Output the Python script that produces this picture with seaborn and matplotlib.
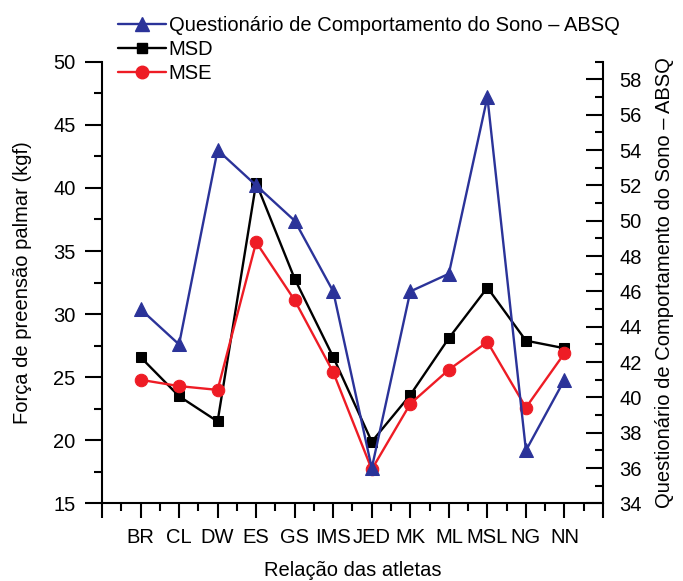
import matplotlib
matplotlib.use("Agg")
import matplotlib.pyplot as plt
from matplotlib.ticker import MultipleLocator
from matplotlib.lines import Line2D
import seaborn as sns
import pandas as pd

athletes = ["BR", "CL", "DW", "ES", "GS", "IMS", "JED", "MK", "ML", "MSL", "NG", "NN"]
msd = [26.6, 23.5, 21.5, 40.4, 32.8, 26.6, 19.9, 23.6, 28.1, 32.1, 27.9, 27.3]
mse = [24.8, 24.3, 24.0, 35.7, 31.1, 25.4, 17.7, 22.9, 25.6, 27.8, 22.6, 26.9]
absq = [45, 43, 54, 52, 50, 46, 36, 46, 47, 57, 37, 41]

label_absq = "Questionário de Comportamento do Sono – ABSQ"
label_msd = "MSD"
label_mse = "MSE"
xlabel = "Relação das atletas"
ylabel_left = "Força de preensão palmar (kgf)"

df = pd.DataFrame({"atleta": athletes, "MSD": msd, "MSE": mse, "ABSQ": absq})

sns.set_style("white")
plt.rcParams["font.family"] = ["Liberation Sans", "DejaVu Sans"]
for k in ("text.color", "axes.labelcolor", "xtick.color", "ytick.color"):
    plt.rcParams[k] = "black"
FS = 14.5

fig = plt.figure(figsize=(6.83, 5.81), dpi=100)
ax = fig.add_axes([0.1493, 0.1334, 0.7336, 0.7604])
ax2 = ax.twinx()

c_blue = "#2B3399"
c_red = "#EE1C25"
c_black = "#000000"
LW = 1.7

sns.lineplot(data=df, x="atleta", y="MSD", ax=ax, color=c_black, marker="s",
             markersize=7.5, markeredgecolor=c_black, linewidth=LW, sort=False)
sns.lineplot(data=df, x="atleta", y="MSE", ax=ax, color=c_red, marker="o",
             markersize=9, markeredgecolor=c_red, linewidth=LW, sort=False)
sns.lineplot(data=df, x="atleta", y="ABSQ", ax=ax2, color=c_blue, marker="^",
             markersize=10, markeredgecolor=c_blue, linewidth=LW, sort=False)

ax.set_xlim(-1, 12)
ax.set_ylim(15, 50)
ax2.set_ylim(34, 59)

ax.xaxis.set_minor_locator(MultipleLocator(0.5))
ax.set_xticks(range(-1, 13))
ax.set_xticklabels([""] + athletes + [""])
ax.yaxis.set_major_locator(MultipleLocator(5))
ax.yaxis.set_minor_locator(MultipleLocator(2.5))
ax2.yaxis.set_major_locator(MultipleLocator(2))
ax2.yaxis.set_minor_locator(MultipleLocator(1))

for a in (ax, ax2):
    for s in a.spines.values():
        s.set_linewidth(1.5)
        s.set_color("black")
    a.spines["top"].set_visible(False)

ax.spines["right"].set_visible(False)
ax2.spines["left"].set_visible(False)
ax2.spines["bottom"].set_visible(False)

ax.tick_params(axis="y", which="major", direction="out", length=12, width=1.5,
               labelsize=FS, pad=7, left=True)
ax.tick_params(axis="y", which="minor", direction="out", length=6, width=1.5, left=True)
ax.tick_params(axis="x", which="major", direction="out", length=11, width=1.5,
               labelsize=FS, pad=7, bottom=True)
ax.tick_params(axis="x", which="minor", direction="out", length=6, width=1.5, bottom=True)
ax2.tick_params(axis="y", which="major", direction="in", length=12, width=1.5,
                labelsize=FS, pad=12, right=True)
ax2.tick_params(axis="y", which="minor", direction="in", length=6, width=1.5, right=True)

ax.set_xlabel(xlabel, fontsize=FS, labelpad=10)
ax.set_ylabel(ylabel_left, fontsize=FS, labelpad=15)
ax2.set_ylabel(label_absq, fontsize=FS, labelpad=9, rotation=90)
ax2.yaxis.set_label_position("right")

handles = [
    Line2D([], [], color=c_blue, marker="^", markersize=10, linewidth=LW),
    Line2D([], [], color=c_black, marker="s", markersize=7.5, linewidth=LW),
    Line2D([], [], color=c_red, marker="o", markersize=9, linewidth=LW),
]
fig.legend(handles, [label_absq, label_msd, label_mse], loc="upper left",
           bbox_to_anchor=(118 / 683, 1 - 16 / 581), frameon=False,
           fontsize=FS, handlelength=2.4, handletextpad=0.12,
           labelspacing=0.25, borderaxespad=0, borderpad=0)

fig.savefig("out.png", dpi=100)
